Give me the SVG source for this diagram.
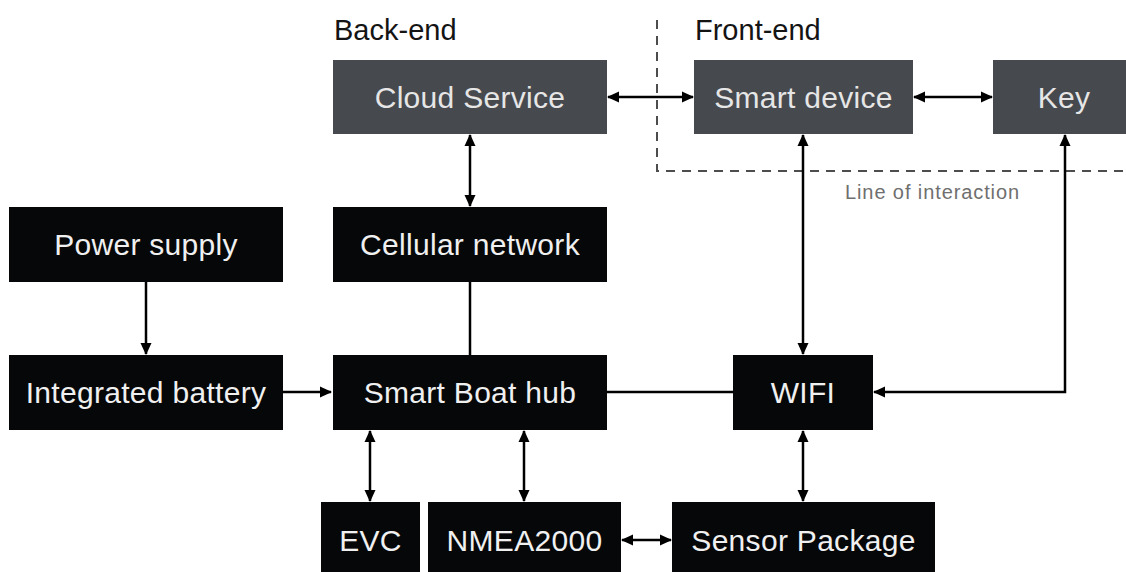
<svg xmlns="http://www.w3.org/2000/svg" width="1126" height="572" viewBox="0 0 1126 572">
  <style>
    .box-dark { fill: #060709; }
    .box-grey { fill: #46494e; }
    .lbl { font-family: "Liberation Sans", Arial, sans-serif; font-size: 30px; fill: #f0f0f0; text-anchor: middle; letter-spacing: 0.3px; }
    .lbl-grey { fill: #e6e6e6; }
    .heading { font-family: "Liberation Sans", Arial, sans-serif; font-size: 29px; fill: #141414; }
    .note { font-family: "Liberation Sans", Arial, sans-serif; font-size: 20px; fill: #6f6f6f; letter-spacing: 0.9px; }
    .conn { fill: none; stroke: #000; stroke-width: 2.5; }
    .arr { marker-end: url(#head); }
    .arr2 { marker-start: url(#head); marker-end: url(#head); }
    .boundary { fill: none; stroke: #4d4d4d; stroke-width: 2; stroke-dasharray: 9 7; }
  </style>
  <defs>
    <marker id="head" viewBox="0 0 12 12" refX="11" refY="6" markerWidth="12" markerHeight="12" markerUnits="userSpaceOnUse" orient="auto-start-reverse">
      <path d="M0,0.5 L12,6 L0,11.5 Z" fill="#000"/>
    </marker>
  </defs>
  <rect width="1126" height="572" fill="#fff"/>

  <!-- zone headings and interaction boundary -->
  <g id="zones">
    <text class="heading" x="334" y="40">Back-end</text>
    <text class="heading" x="695" y="40">Front-end</text>
    <path class="boundary" d="M657,20 V171 H1126"/>
    <text class="note" x="845" y="199">Line of interaction</text>
  </g>

  <!-- connectors -->
  <g id="connectors">
    <line class="conn arr2" x1="608" y1="97" x2="693" y2="97"/>
    <line class="conn arr2" x1="914" y1="97" x2="992" y2="97"/>
    <line class="conn arr2" x1="470" y1="135" x2="470" y2="206"/>
    <line class="conn arr" x1="146" y1="282" x2="146" y2="354"/>
    <line class="conn arr" x1="283" y1="392" x2="331" y2="392"/>
    <line class="conn" x1="470" y1="282" x2="470" y2="355"/>
    <line class="conn" x1="607" y1="392" x2="733" y2="392"/>
    <line class="conn arr2" x1="803" y1="135" x2="803" y2="354"/>
    <polyline class="conn arr2" points="1065,135 1065,392 874,392"/>
    <line class="conn arr2" x1="370" y1="431" x2="370" y2="501"/>
    <line class="conn arr2" x1="524" y1="431" x2="524" y2="501"/>
    <line class="conn arr2" x1="803" y1="431" x2="803" y2="501"/>
    <line class="conn arr2" x1="622" y1="540" x2="671" y2="540"/>
  </g>

  <g id="cloud-service">
    <rect class="box-grey" x="333" y="60" width="274" height="74"/>
    <text class="lbl lbl-grey" x="470" y="108">Cloud Service</text>
  </g>
  <g id="smart-device">
    <rect class="box-grey" x="694" y="60" width="219" height="74"/>
    <text class="lbl lbl-grey" x="803.5" y="108">Smart device</text>
  </g>
  <g id="key">
    <rect class="box-grey" x="993" y="60" width="145" height="74"/>
    <text class="lbl lbl-grey" x="1064" y="108">Key</text>
  </g>
  <g id="power-supply">
    <rect class="box-dark" x="9" y="207" width="274" height="75"/>
    <text class="lbl" x="146" y="255">Power supply</text>
  </g>
  <g id="cellular-network">
    <rect class="box-dark" x="333" y="207" width="274" height="75"/>
    <text class="lbl" x="470" y="255">Cellular network</text>
  </g>
  <g id="integrated-battery">
    <rect class="box-dark" x="9" y="355" width="274" height="75"/>
    <text class="lbl" x="146" y="403">Integrated battery</text>
  </g>
  <g id="smart-boat-hub">
    <rect class="box-dark" x="333" y="355" width="274" height="75"/>
    <text class="lbl" x="470" y="403">Smart Boat hub</text>
  </g>
  <g id="wifi">
    <rect class="box-dark" x="733" y="355" width="140" height="75"/>
    <text class="lbl" x="803" y="403">WIFI</text>
  </g>
  <g id="evc">
    <rect class="box-dark" x="321" y="502" width="99" height="76"/>
    <text class="lbl" x="370.5" y="551">EVC</text>
  </g>
  <g id="nmea2000">
    <rect class="box-dark" x="428" y="502" width="193" height="76"/>
    <text class="lbl" x="524.5" y="551">NMEA2000</text>
  </g>
  <g id="sensor-package">
    <rect class="box-dark" x="672" y="502" width="263" height="76"/>
    <text class="lbl" x="803.5" y="551">Sensor Package</text>
  </g>
</svg>
